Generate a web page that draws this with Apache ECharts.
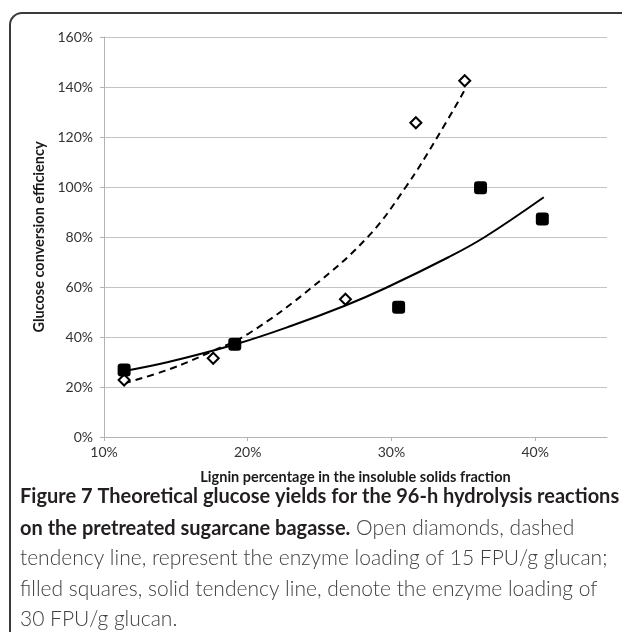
<!DOCTYPE html>
<html>
<head>
<meta charset="utf-8">
<script src="https://cdn.jsdelivr.net/npm/echarts@6/dist/echarts.min.js"></script>
<style>
  html, body { margin: 0; padding: 0; background: #fff; }
  #chart { width: 622px; height: 632px; }
</style>
</head>
<body>
<div id="chart"></div>
<script>
// 15 FPU/g glucan: open diamonds + dashed trend
var diamondX = [11.4, 17.6, 26.8, 31.7, 35.1];
var diamondY = [22.8, 31.5, 55.1, 125.7, 142.5];
// 30 FPU/g glucan: filled squares + solid trend
var squareX = [11.4, 19.1, 30.5, 36.2, 40.5];
var squareY = [26.8, 37.1, 51.9, 99.7, 87.2];

// trend lines
var dashTrendX = [11.4, 14.5, 17.6, 20.1, 24.5, 28.35, 31.0, 33.2, 35.1];
var dashTrendY = [21.5, 27.0, 34.5, 41.5, 60.0, 80.0, 100.0, 120.0, 138.8];
var solidTrendX = [11.4, 14.4, 19.1, 23.0, 26.8, 29.6, 34.0, 36.5, 40.6];
var solidTrendY = [26.4, 29.9, 37.0, 44.4, 52.6, 59.6, 72.0, 80.0, 95.9];

var xTicks = [10, 20, 30, 40];

var captionLines = [
  "Figure 7 Theoretical glucose yields for the 96-h hydrolysis reactions",
  ["on the pretreated sugarcane bagasse.", " Open diamonds, dashed"],
  "tendency line, represent the enzyme loading of 15 FPU/g glucan;",
  "filled squares, solid tendency line, denote the enzyme loading of",
  "30 FPU/g glucan."
];

function pairs(xs, ys) {
  var out = [];
  for (var i = 0; i < xs.length; i++) out.push([xs[i], ys[i]]);
  return out;
}

var chart = echarts.init(document.getElementById("chart"), null, { renderer: "canvas" });

var font = "Lato, 'Open Sans', sans-serif";
var capTop = 500, capStep = 30.5, capLeft = 20;
var boldColor = "#231f20", lightColor = "#404042";

var graphics = [{
  type: "rect",
  shape: { x: 10, y: 13, width: 660, height: 680, r: 12 },
  style: { fill: null, stroke: "#3a3a3a", lineWidth: 2 },
  silent: true
}];

captionLines.forEach(function (line, i) {
  var rich = {
    b: { fontFamily: font, fontWeight: "bold", fontSize: 20, fill: boldColor },
    r: { fontFamily: font, fontWeight: 300, fontSize: 21, fill: lightColor }
  };
  var text;
  if (i === 0) text = "{b|" + line + "}";
  else if (i === 1) text = "{b|" + line[0] + "}{r|" + line[1] + "}";
  else text = "{r|" + line + "}";
  graphics.push({
    type: "text",
    left: capLeft,
    top: Math.round(capTop + i * capStep - 13),
    style: { text: text, rich: rich, font: "20px " + font },
    silent: true
  });
});

var option = {
  animation: false,
  backgroundColor: "#fff",
  grid: { left: 104, right: 15, top: 37, bottom: 195, containLabel: false },
  xAxis: {
    type: "value",
    min: 10,
    max: 45,
    interval: 10,
    name: "Lignin percentage in the insoluble solids fraction",
    nameLocation: "middle",
    nameGap: 33,
    nameTextStyle: { fontFamily: font, fontWeight: "bold", fontSize: 14.5, color: "#1a1a1a" },
    axisLine: { show: true, lineStyle: { color: "#b3b3b3", width: 1 } },
    axisTick: { show: true, length: 4, customValues: xTicks, lineStyle: { color: "#b3b3b3" } },
    axisLabel: {
      customValues: xTicks,
      margin: 8,
      fontFamily: font, fontSize: 14, color: "#333",
      formatter: "{value}%"
    },
    splitLine: { show: false }
  },
  yAxis: {
    type: "value",
    min: 0,
    max: 160,
    interval: 20,
    name: "Glucose conversion efficiency",
    nameLocation: "middle",
    nameGap: 53,
    nameRotate: 90,
    nameTextStyle: { fontFamily: font, fontWeight: "bold", fontSize: 14.5, color: "#1a1a1a" },
    axisLine: { show: true, lineStyle: { color: "#b3b3b3", width: 1 } },
    axisTick: { show: true, length: 4, lineStyle: { color: "#b3b3b3" } },
    axisLabel: {
      margin: 11,
      fontFamily: font, fontSize: 14, color: "#333",
      formatter: "{value}%"
    },
    splitLine: { show: true, lineStyle: { color: "#c4c4c4", width: 1 } }
  },
  graphic: graphics,
  series: [
    {
      name: "15 FPU trend",
      type: "line",
      data: pairs(dashTrendX, dashTrendY),
      smooth: 0.4,
      showSymbol: false,
      lineStyle: { color: "#000", width: 2, type: [7, 5] },
      z: 2
    },
    {
      name: "30 FPU trend",
      type: "line",
      data: pairs(solidTrendX, solidTrendY),
      smooth: 0.4,
      showSymbol: false,
      lineStyle: { color: "#000", width: 2 },
      z: 2
    },
    {
      name: "15 FPU/g glucan",
      type: "scatter",
      data: pairs(diamondX, diamondY),
      symbol: "diamond",
      symbolSize: 11,
      itemStyle: { color: "#fff", borderColor: "#000", borderWidth: 2, opacity: 1 },
      z: 3
    },
    {
      name: "30 FPU/g glucan",
      type: "scatter",
      data: pairs(squareX, squareY),
      symbol: "roundRect",
      symbolSize: 13,
      itemStyle: { color: "#000", opacity: 1 },
      z: 3
    }
  ]
};

chart.setOption(option);
</script>
</body>
</html>
